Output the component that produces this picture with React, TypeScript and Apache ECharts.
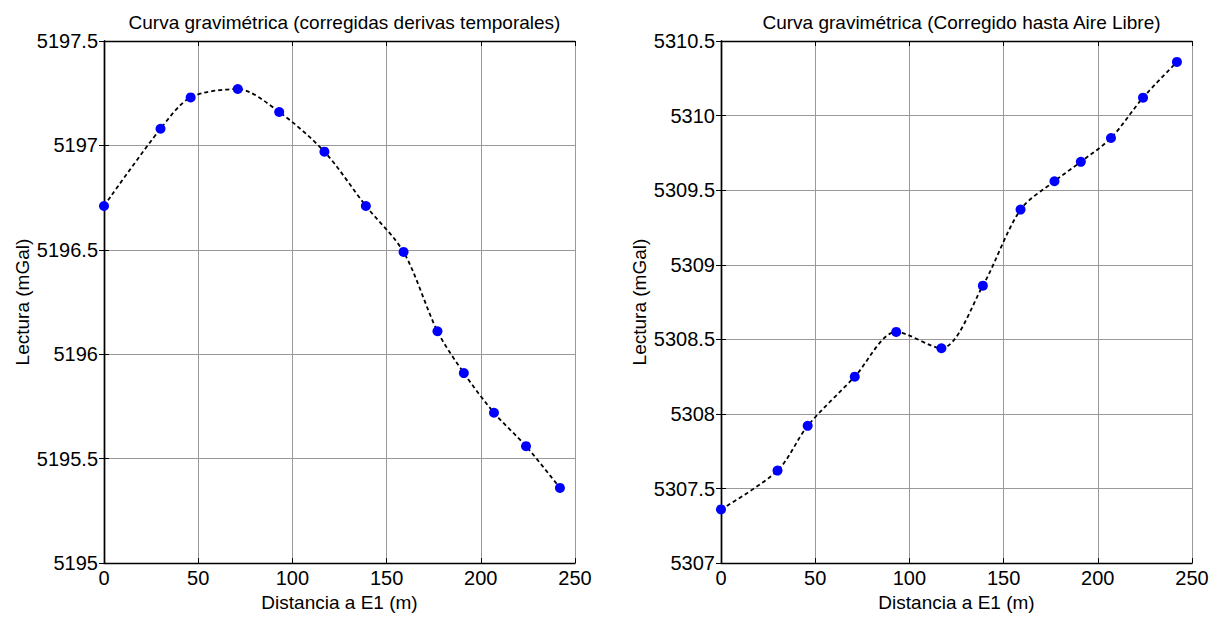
import React, { useEffect, useRef } from "react";
import * as echarts from "echarts";

const distancia = [0, 30, 46, 71, 93, 117, 139, 159, 177, 191, 207, 224, 242];
const lecturaDerivas = [5196.71, 5197.08, 5197.23, 5197.27, 5197.16, 5196.97, 5196.71, 5196.49, 5196.11, 5195.91, 5195.72, 5195.56, 5195.36];
const lecturaAireLibre = [5307.36, 5307.62, 5307.92, 5308.25, 5308.55, 5308.44, 5308.86, 5309.37, 5309.56, 5309.69, 5309.85, 5310.12, 5310.36];

const titles = [
  "Curva gravimétrica (corregidas derivas temporales)",
  "Curva gravimétrica (Corregido hasta Aire Libre)",
];
const xName = "Distancia a E1 (m)";
const yName = "Lectura (mGal)";
const yRanges = [
  [5195, 5197.5],
  [5307, 5310.5],
];

const FONT = "Liberation Sans, Arial, sans-serif";

export default function App() {
  const ref = useRef<HTMLDivElement>(null);
  useEffect(() => {
    if (!ref.current) return;
    const chart = echarts.init(ref.current, null, { renderer: "svg" });
    const grids = [
      { left: 104, top: 41, width: 471, height: 525 },
      { left: 721, top: 41, width: 471, height: 525 },
    ];
    const tick = { show: true, inside: true, length: 5, lineStyle: { color: "#000" } };
    const line = { show: true, lineStyle: { color: "#000", width: 1.4 } };
    const split = { show: true, lineStyle: { color: "#999999", width: 1 } };
    const xAxes: any[] = [];
    const yAxes: any[] = [];
    grids.forEach((g, i) => {
      xAxes.push({
        type: "value",
        gridIndex: i,
        min: 0,
        max: 250,
        interval: 50,
        name: xName,
        nameLocation: "middle",
        nameGap: 29,
        nameTextStyle: { color: "#000", fontSize: 19, fontFamily: FONT },
        axisLine: line,
        axisTick: tick,
        axisLabel: { color: "#000", fontSize: 20, fontFamily: FONT, margin: 5 },
        splitLine: split,
      });
      xAxes.push({
        type: "value",
        gridIndex: i,
        position: "top",
        min: 0,
        max: 250,
        interval: 50,
        axisLine: line,
        axisTick: tick,
        axisLabel: { show: false },
        splitLine: { show: false },
      });
      yAxes.push({
        type: "value",
        gridIndex: i,
        min: yRanges[i][0],
        max: yRanges[i][1],
        interval: 0.5,
        name: yName,
        nameLocation: "middle",
        nameGap: 72,
        nameTextStyle: { color: "#000", fontSize: 19, fontFamily: FONT },
        axisLine: line,
        axisTick: tick,
        axisLabel: {
          color: "#000",
          fontSize: 20,
          fontFamily: FONT,
          margin: 6,
          formatter: (v: number) => String(v),
        },
        splitLine: split,
      });
      yAxes.push({
        type: "value",
        gridIndex: i,
        position: "right",
        min: yRanges[i][0],
        max: yRanges[i][1],
        interval: 0.5,
        axisLine: line,
        axisTick: tick,
        axisLabel: { show: false },
        splitLine: { show: false },
      });
    });
    const seriesData = [lecturaDerivas, lecturaAireLibre];
    chart.setOption({
      animation: false,
      backgroundColor: "#fff",
      title: titles.map((t, i) => ({
        text: t,
        left: grids[i].left + grids[i].width / 2,
        top: 8,
        textAlign: "center",
        textStyle: { color: "#000", fontSize: 19, fontWeight: "normal", fontFamily: FONT },
      })),
      grid: grids.map((g) => ({ ...g, containLabel: false, show: false })),
      xAxis: xAxes,
      yAxis: yAxes,
      series: seriesData.map((vals, i) => ({
        type: "line",
        xAxisIndex: i * 2,
        yAxisIndex: i * 2,
        data: distancia.map((d, k) => [d, vals[k]]),
        smooth: 0.3,
        symbol: "circle",
        symbolSize: 10,
        itemStyle: { color: "#0000ff" },
        lineStyle: { color: "#000", width: 1.8, type: [4, 3] },
        emphasis: { disabled: true },
      })),
    });
    return () => chart.dispose();
  }, []);
  return (
    <div
      ref={ref}
      style={{ position: "absolute", left: 0, top: 0, width: 1220, height: 617 }}
    />
  );
}
